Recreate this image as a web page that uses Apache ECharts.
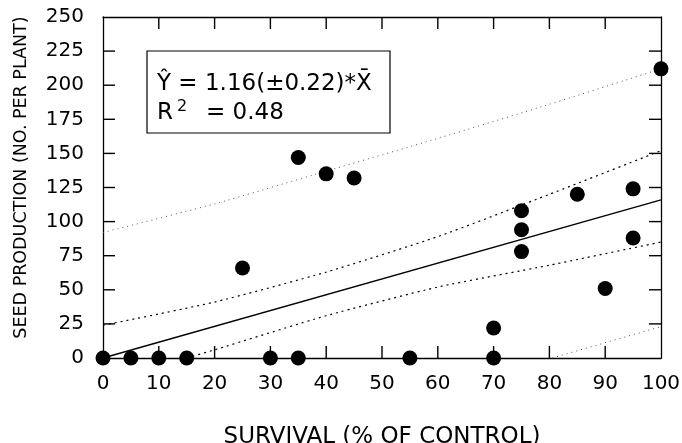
<!DOCTYPE html>
<html>
<head>
<meta charset="utf-8">
<script src="https://cdn.jsdelivr.net/npm/echarts@6/dist/echarts.min.js"></script>
<style>html,body{margin:0;padding:0;background:#fff}#c{width:682px;height:443px}</style>
</head>
<body>
<div id="c"></div>
<script>
// Observed points
var survival = [0, 5, 10, 15, 25, 30, 35, 35, 40, 45, 55, 70, 70, 75, 75, 75, 85, 90, 95, 95, 100];
var seed     = [0, 0, 0, 0, 66, 0, 0, 147, 135, 132, 0, 0, 22, 108, 94, 78, 120, 51, 124, 88, 212];
// Fitted line
var fitX = [0, 100];
var fitY = [0, 116];
// Confidence band (inner)
var ciUpperX = [0, 20, 40, 60, 80, 100];
var ciUpperY = [24, 41, 63, 89, 120, 152];
var ciLowerX = [15, 20, 40, 60, 80, 100];
var ciLowerY = [0, 6, 31, 52, 68, 85];
// Prediction band (outer)
var piUpperX = [0, 20, 40, 60, 80, 100];
var piUpperY = [92, 113, 137, 161, 186, 212];
var piLowerX = [80.5, 100];
var piLowerY = [0, 23];
// Axis ticks
var xTicks = [0, 10, 20, 30, 40, 50, 60, 70, 80, 90, 100];
var yTicks = [0, 25, 50, 75, 100, 125, 150, 175, 200, 225, 250];

function pairs(xs, ys) { return xs.map(function (x, i) { return [x, ys[i]]; }); }

var FONT = 'DejaVu Sans';
var X_MIN = xTicks[0], X_MAX = xTicks[xTicks.length - 1];
var Y_MIN = yTicks[0], Y_MAX = yTicks[yTicks.length - 1];
var TICK_PX = 12;

var chart = echarts.init(document.getElementById('c'));
function axisLine() { return { show: true, onZero: false, lineStyle: { color: '#000', width: 1.3 } }; }
function noTick() { return { show: false }; }
function split() { return { show: false }; }

chart.setOption({
  animation: false,
  grid: { left: 103, right: 21, top: 17, bottom: 85, outerBoundsMode: 'none' },
  xAxis: [{
    type: 'value', min: X_MIN, max: X_MAX, interval: 10, position: 'bottom',
    name: 'SURVIVAL (% OF CONTROL)', nameLocation: 'middle', nameGap: 68,
    nameTextStyle: { fontFamily: FONT, fontSize: 23, color: '#000' },
    axisLine: axisLine(), axisTick: noTick(), splitLine: split(),
    axisLabel: { fontFamily: FONT, fontSize: 20, color: '#000', margin: 16 }
  }, {
    type: 'value', min: X_MIN, max: X_MAX, interval: 10, position: 'top',
    axisLine: axisLine(), axisTick: noTick(), splitLine: split(), axisLabel: { show: false }
  }],
  yAxis: [{
    type: 'value', min: Y_MIN, max: Y_MAX, interval: 25, position: 'left',
    name: 'SEED PRODUCTION (NO. PER PLANT)', nameLocation: 'middle', nameGap: 73, nameRotate: 90,
    nameTextStyle: { fontFamily: FONT, fontSize: 17.5, color: '#000', padding: [0, 0, 0, 20] },
    axisLine: axisLine(), axisTick: noTick(), splitLine: split(),
    axisLabel: { fontFamily: FONT, fontSize: 20, color: '#000', margin: 19 }
  }, {
    type: 'value', min: Y_MIN, max: Y_MAX, interval: 25, position: 'right',
    axisLine: axisLine(), axisTick: noTick(), splitLine: split(), axisLabel: { show: false }
  }],
  series: [
    { type: 'line', data: pairs(piUpperX, piUpperY), symbol: 'none', smooth: 0.2,
      lineStyle: { color: '#555', width: 1, type: [1, 4] } },
    { type: 'line', data: pairs(piLowerX, piLowerY), symbol: 'none',
      lineStyle: { color: '#555', width: 1, type: [1, 4] } },
    { type: 'line', data: pairs(ciUpperX, ciUpperY), symbol: 'none', smooth: 0.2,
      lineStyle: { color: '#000', width: 1.2, type: [2, 4] } },
    { type: 'line', data: pairs(ciLowerX, ciLowerY), symbol: 'none', smooth: 0.2,
      lineStyle: { color: '#000', width: 1.2, type: [2, 4] } },
    { type: 'line', data: pairs(fitX, fitY), symbol: 'none',
      lineStyle: { color: '#000', width: 1.3 } },
    { type: 'scatter', data: pairs(survival, seed), symbol: 'circle', symbolSize: 15, clip: false,
      itemStyle: { color: '#000', opacity: 1 }, z: 5 }
  ]
});

// Inward tick marks on all four sides, positioned through the grid's own scales
var graphics = [
  { type: 'rect', shape: { x: 147, y: 51, width: 243, height: 82 },
    style: { fill: '#fff', stroke: '#000', lineWidth: 1.2 }, z: 10 },
  { type: 'text', x: 157, y: 96, z: 11,
    style: { text: 'Y\u0302 = 1.16(\u00b10.22)*X\u0304', fontFamily: FONT, fontSize: 23, fill: '#000', verticalAlign: 'bottom' } },
  { type: 'text', x: 157, y: 125, z: 11,
    style: { text: 'R', fontFamily: FONT, fontSize: 23, fill: '#000', verticalAlign: 'bottom' } },
  { type: 'text', x: 177, y: 115, z: 11,
    style: { text: '2', fontFamily: FONT, fontSize: 16, fill: '#000', verticalAlign: 'bottom' } },
  { type: 'text', x: 206, y: 125, z: 11,
    style: { text: '= 0.48', fontFamily: FONT, fontSize: 23, fill: '#000', verticalAlign: 'bottom' } }
];
function tickLine(x1, y1, x2, y2) {
  return { type: 'line', shape: { x1: x1, y1: y1, x2: x2, y2: y2 },
    style: { stroke: '#000', lineWidth: 1.4 }, z: 20 };
}
xTicks.slice(1, -1).forEach(function (x) {
  var b = chart.convertToPixel({ gridIndex: 0 }, [x, Y_MIN]);
  var t = chart.convertToPixel({ gridIndex: 0 }, [x, Y_MAX]);
  graphics.push(tickLine(b[0], b[1], b[0], b[1] - TICK_PX));
  graphics.push(tickLine(t[0], t[1], t[0], t[1] + TICK_PX));
});
yTicks.slice(1, -1).forEach(function (y) {
  var l = chart.convertToPixel({ gridIndex: 0 }, [X_MIN, y]);
  var r = chart.convertToPixel({ gridIndex: 0 }, [X_MAX, y]);
  graphics.push(tickLine(l[0], l[1], l[0] + TICK_PX, l[1]));
  graphics.push(tickLine(r[0], r[1], r[0] - TICK_PX, r[1]));
});
chart.setOption({ graphic: graphics });
</script>
</body>
</html>
